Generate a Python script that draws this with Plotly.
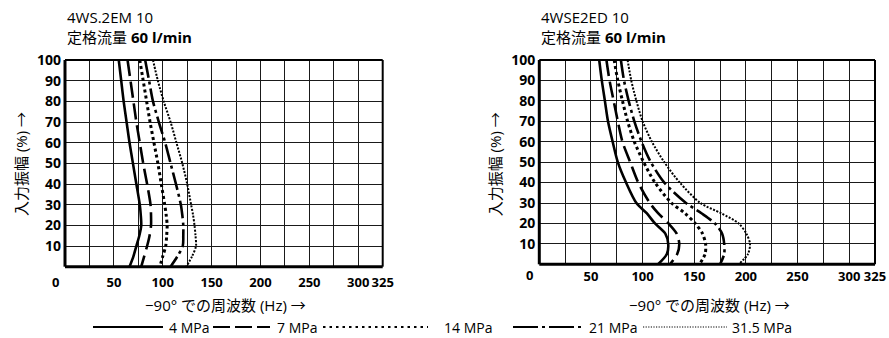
import plotly.graph_objects as go

# ---------------- data ----------------
amplitude = [100, 90, 80, 70, 60, 50, 40, 30, 25, 20, 15, 10, 5, 0]

pressures = ["4 MPa", "7 MPa", "14 MPa", "21 MPa", "31.5 MPa"]

# 4WS.2EM 10 (left)
left_4 = [55, 57.5, 60, 63, 66, 69.5, 73, 76.5, 77.5, 78, 76, 73, 70, 66]
left_7 = [64, 67, 70, 73, 76.5, 80, 84, 87.5, 88, 88, 86.5, 84, 81, 78]
left_14 = [76.5, 80, 83.5, 87, 91, 95, 98.5, 102, 103.5, 104.5, 104, 103, 100, 97]
left_21 = [82, 86, 90, 96, 102.5, 108, 113.5, 118.5, 120, 121, 121, 120.5, 115, 108]
left_315 = [90, 95, 101, 108, 114, 120, 125, 129, 131, 132.5, 133.5, 134, 130, 124]

# 4WSE2ED 10 (right)
right_4 = [58, 60.5, 63.5, 66.5, 71, 76, 84, 94, 104, 112, 122, 124.8, 123.5, 115]
right_7 = [65, 68, 72, 76, 80.5, 88, 95.8, 107, 115, 125, 133, 135.5, 133.5, 126.5]
right_14 = [72.5, 76, 80.5, 85.5, 92, 101, 112, 128, 141, 151, 158, 161, 160.5, 155]
right_21 = [79, 82, 86.5, 92, 99, 108, 121, 142, 157, 170, 177, 179, 179, 175]
right_315 = [85.5, 89, 94, 100, 109, 121, 136, 156, 176, 193, 200.5, 204, 202, 193]

left_series = [left_4, left_7, left_14, left_21, left_315]
right_series = [right_4, right_7, right_14, right_21, right_315]

x_tickvals = [50, 100, 150, 200, 250, 300, 325]
x_ticktext = ["50", "100", "150", "200", "250", "300", "325"]
y_tickvals = [10, 20, 30, 40, 50, 60, 70, 80, 90, 100]

titles_model = ["4WS.2EM 10", "4WSE2ED 10"]
title_flow = "定格流量 <b>60 l/min</b>"
y_title = "入力振幅 (%) →"
x_title = "−90° での周波数 (Hz) →"

# ---------------- styles ----------------
W, H = 889, 338
FONT = "Open Sans, Noto Sans CJK JP, sans-serif"
styles = [
    dict(dash="solid", width=2.6),
    dict(dash="16px,6px", width=2.6),
    dict(dash="3px,3px", width=3),
    dict(dash="18px,4px,3px,4px", width=2.6),
    dict(dash="2px,1.5px", width=2),
]
legend_styles = [
    dict(dash="solid", width=2),
    dict(dash="17px,5px", width=2),
    dict(dash="2.5px,4px", width=2),
    dict(dash="25px,4px,3px,4px", width=2),
    dict(dash="1.2px,1.4px", width=1.2),
]

fig = go.Figure()

for i, ys in enumerate(left_series):
    fig.add_trace(go.Scatter(x=ys, y=amplitude, mode="lines", name=pressures[i],
                             line=dict(color="black", shape="spline", smoothing=0.8, **styles[i]),
                             xaxis="x", yaxis="y", showlegend=False, hoverinfo="skip"))
for i, ys in enumerate(right_series):
    fig.add_trace(go.Scatter(x=ys, y=amplitude, mode="lines", name=pressures[i],
                             line=dict(color="black", shape="spline", smoothing=0.8, **styles[i]),
                             xaxis="x2", yaxis="y2", showlegend=False, hoverinfo="skip"))

# geometry (px)
L = dict(x0=65, x1=382.7, ytop=60, ybot=266.7)
R = dict(x0=539.3, x1=875, ytop=60, ybot=264.3)


def xdom(g):
    return [g["x0"] / W, g["x1"] / W]


def ydom(g):
    return [1 - g["ybot"] / H, 1 - g["ytop"] / H]


def xaxis(g, anchor, standoff):
    return dict(domain=xdom(g), anchor=anchor, range=[0, 325], tickmode="array",
                tickvals=x_tickvals, ticktext=x_ticktext, tickangle=0,
                showgrid=False, zeroline=False, ticks="", showline=False,
                automargin=False, ticklabelstandoff=standoff,
                minor=dict(tick0=0, dtick=25, showgrid=True, gridcolor="#1a1a1a", gridwidth=1),
                tickfont=dict(family=FONT, size=13, color="black", weight="bold"),
                fixedrange=True)


def yaxis(g, anchor):
    return dict(domain=ydom(g), anchor=anchor, range=[0, 100], tickmode="array",
                tickvals=y_tickvals, showgrid=True, gridcolor="#1a1a1a", gridwidth=1,
                zeroline=False, ticks="", showline=False, ticklabelstandoff=3,
                automargin=False,
                tickfont=dict(family=FONT, size=14, color="black", weight="bold"),
                fixedrange=True)


fig.update_layout(
    width=W, height=H, autosize=False,
    margin=dict(l=0, r=0, t=0, b=0, pad=0, autoexpand=False),
    paper_bgcolor="white", plot_bgcolor="white",
    xaxis=xaxis(L, "y", 6),
    yaxis=yaxis(L, "x"),
    xaxis2=xaxis(R, "y2", 3),
    yaxis2=yaxis(R, "x2"),
    showlegend=False,
)

shapes = []
annotations = []
for g, xr, yr in [(L, "x", "y"), (R, "x2", "y2")]:
    xd, yd = xr + " domain", yr + " domain"
    shapes.append(dict(type="line", xref=xd, yref=yd, x0=0, x1=1, y0=1, y1=1,
                       line=dict(color="black", width=2)))
    shapes.append(dict(type="line", xref=xd, yref=yd, x0=1, x1=1, y0=0, y1=1,
                       line=dict(color="black", width=2)))
    shapes.append(dict(type="line", xref=xd, yref=yd, x0=0, x1=0, y0=0, y1=1,
                       line=dict(color="black", width=3)))
    shapes.append(dict(type="line", xref=xd, yref=yd, x0=0, x1=1, y0=0, y1=0,
                       line=dict(color="black", width=3)))

for g, model, xr, yoff in [(L, titles_model[0], "x", 15), (R, titles_model[1], "x2", 11)]:
    annotations.append(dict(xref="paper", yref="paper", x=g["x0"] / W, y=1 - 17 / H,
                            text=model, showarrow=False, xanchor="left", yanchor="middle",
                            font=dict(family=FONT, size=15, color="black")))
    annotations.append(dict(xref="paper", yref="paper", x=g["x0"] / W, y=1 - 37 / H,
                            text=title_flow, showarrow=False, xanchor="left", yanchor="middle",
                            font=dict(family=FONT, size=15, color="black")))
    annotations.append(dict(xref="paper", yref="paper", x=(g["x0"] - 44) / W, y=1 - 164 / H,
                            text=y_title, showarrow=False, textangle=-90,
                            xanchor="center", yanchor="middle",
                            font=dict(family=FONT, size=15, color="black")))
    annotations.append(dict(xref="paper", yref="paper", x=(g["x0"] + g["x1"]) / 2 / W + 2 / W,
                            y=1 - 305 / H, text=x_title, showarrow=False,
                            xanchor="center", yanchor="middle",
                            font=dict(family=FONT, size=15, color="black")))
    # corner "0" label, set slightly left of the origin as in the original
    annotations.append(dict(xref="paper", yref="paper", x=(g["x0"] - 10) / W,
                            y=1 - (g["ybot"] + yoff) / H, text="<b>0</b>", showarrow=False,
                            xanchor="center", yanchor="middle",
                            font=dict(family=FONT, size=13, color="black")))

legend_y = 1 - 327 / H
sample_px = [(93, 163), (213, 270), (323, 428), (513, 583), (643, 727)]
label_px = [167, 275, 442, 587, 730]
for i in range(5):
    a, b = sample_px[i]
    shapes.append(dict(type="line", xref="paper", yref="paper", x0=a / W, x1=b / W,
                       y0=legend_y, y1=legend_y,
                       line=dict(color="black", **legend_styles[i])))
    annotations.append(dict(xref="paper", yref="paper", x=label_px[i] / W, y=legend_y,
                            text=pressures[i], showarrow=False, xanchor="left", yanchor="middle",
                            font=dict(family=FONT, size=14, color="black")))

fig.update_layout(shapes=shapes, annotations=annotations)

fig.write_html("out.html", config=dict(displayModeBar=False, staticPlot=True))
